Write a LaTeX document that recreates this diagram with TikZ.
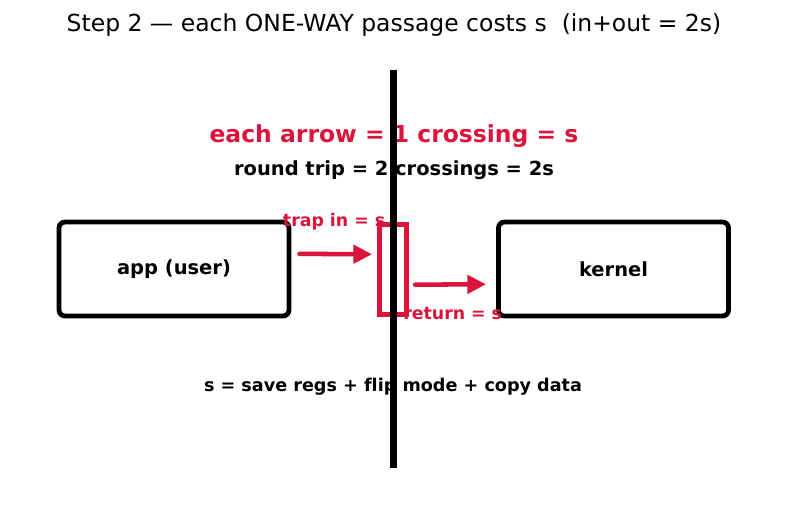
\documentclass[tikz,border=0pt]{standalone}
\usepackage{fontspec}
\setmainfont[Ligatures=NoCommon]{DejaVu Sans}
\usepackage{xcolor}
\definecolor{crimson}{RGB}{220,20,60}
\usepackage{tikz}
\usetikzlibrary{arrows.meta, positioning}

\begin{document}
\begin{tikzpicture}[
  x=0.75pt, y=-0.75pt,
  procbox/.style={rectangle, draw=black, line width=3.6pt, rounded corners=4.5pt,
                  minimum width=172.5pt, minimum height=70.5pt,
                  font=\fontsize{14.6}{17}\selectfont\bfseries},
  gatebox/.style={rectangle, draw=crimson, line width=3.75pt, inner sep=0pt,
                  minimum width=20.7pt, minimum height=67.5pt},
  flow/.style={-{Triangle[length=14pt, width=13.5pt]}, line width=3.4pt,
               line cap=round, color=crimson},
  note/.style={font=\fontsize{13}{15}\selectfont\bfseries, text=crimson, anchor=base}
]
  \useasboundingbox (0,0) rectangle (787,510);

  % Title
  \node[font=\fontsize{17.6}{21}\selectfont, anchor=base] (title) at (394,31.7)
    {Step 2 — each ONE-WAY passage costs s\ \ (in+out = 2s)};

  % Headline
  \node[font=\fontsize{17.6}{21}\selectfont\bfseries, text=crimson, anchor=base] (rule)
    at (394,142.3) {each arrow = 1 crossing = s};
  \node[font=\fontsize{14.6}{17}\selectfont\bfseries, anchor=base] (trip)
    at (394,175.7) {round trip = 2 crossings = 2s};

  % Boxes
  \node[procbox] (app)    at (174,269)   {app (user)};
  \node[procbox] (kernel) at (613.5,269) {kernel};
  \node[gatebox] (gate)   at (393,269.5) {};

  % Crossings
  \draw[flow, shorten <=6pt, shorten >=3.5pt]
    ([yshift=11.4pt]app.east) -- ([yshift=11.4pt]gate.west)
    node[note, midway, yshift=21pt] (trapin) {trap in = s};
  \draw[flow, shorten <=4.4pt, shorten >=7.5pt]
    ([yshift=-11.4pt]gate.east) -- ([yshift=-11.4pt]kernel.west)
    node[note, midway, yshift=-26pt] (ret) {return = s};

  % Cost breakdown
  \node[font=\fontsize{13.2}{15}\selectfont\bfseries, anchor=base] (cost)
    at (393,391.7) {s = save regs + flip mode + copy data};

  % Boundary
  \coordinate (walltop) at (393.3,70);
  \coordinate (wallbot) at (393.3,468);
  \draw[line width=5pt] (walltop) -- (wallbot);
\end{tikzpicture}
\end{document}
